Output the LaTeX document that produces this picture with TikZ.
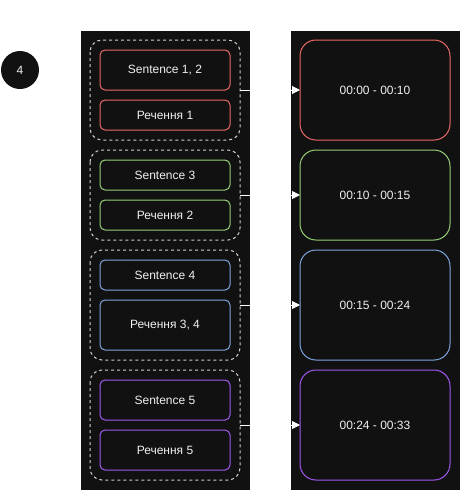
\documentclass[tikz,border=0pt]{standalone}
\usepackage{fontspec}
\setmainfont{Liberation Sans}
\usetikzlibrary{arrows.meta}
\definecolor{panel}{HTML}{111111}
\definecolor{cred}{HTML}{EA6B66}
\definecolor{cgreen}{HTML}{97D077}
\definecolor{cblue}{HTML}{7EA6E0}
\definecolor{cpurple}{HTML}{A259F0}
\definecolor{ctext}{HTML}{F0F0F0}
\definecolor{cdash}{HTML}{D0D0D0}
\begin{document}
\begin{tikzpicture}[x=1pt,y=-1pt,
  every node/.style={font=\fontsize{12}{14}\selectfont, text=ctext},
  panelbox/.style={fill=panel, draw=none},
  grp/.style={draw=cdash, line width=1pt, dash pattern=on 3pt off 3pt, rounded corners=12pt, fill=panel},
  item/.style={draw=#1, line width=1pt, rounded corners=5pt, fill=panel},
  slot/.style={draw=#1, line width=1pt, rounded corners=16pt, fill=panel},
  link/.style={draw=white, line width=1pt, -{Triangle[length=8pt,width=8pt]}}
]
\useasboundingbox (0,0) rectangle (461,491);
\fill[white] (0,0) rectangle (461,491);

% step badge
\node[circle, fill=panel, minimum size=38pt, inner sep=0pt] (badge) at (20,70) {4};

% dark panels
\fill[panelbox] (81,31) rectangle (250,490);
\fill[panelbox] (291,31) rectangle (460,490);

% groups of sentences
\draw[grp] (90,40) rectangle (240,140) node[coordinate] (g1se) {};
\coordinate (g1) at (240,90);
\draw[grp] (90,150) rectangle (240,240);
\coordinate (g2) at (240,195);
\draw[grp] (90,250) rectangle (240,360);
\coordinate (g3) at (240,305);
\draw[grp] (90,370) rectangle (240,480);
\coordinate (g4) at (240,425);

% sentence items
\draw[item=cred] (100,50) rectangle (230,90);
\node (s12) at (165,70) {Sentence 1, 2};
\draw[item=cred] (100,100) rectangle (230,130);
\node (r1) at (165,115) {Речення 1};

\draw[item=cgreen] (100,160) rectangle (230,190);
\node (s3) at (165,175) {Sentence 3};
\draw[item=cgreen] (100,200) rectangle (230,230);
\node (r2) at (165,215) {Речення 2};

\draw[item=cblue] (100,260) rectangle (230,290);
\node (s4) at (165,275) {Sentence 4};
\draw[item=cblue] (100,300) rectangle (230,350);
\node (r34) at (165,325) {Речення 3, 4};

\draw[item=cpurple] (100,380) rectangle (230,420);
\node (s5) at (165,400) {Sentence 5};
\draw[item=cpurple] (100,430) rectangle (230,470);
\node (r5) at (165,450) {Речення 5};

% time slots
\draw[slot=cred] (300,40) rectangle (450,140);
\node (t1) at (375,90) {00:00 - 00:10};
\coordinate (t1w) at (300,90);
\draw[slot=cgreen] (300,150) rectangle (450,240);
\node (t2) at (375,195) {00:10 - 00:15};
\coordinate (t2w) at (300,195);
\draw[slot=cblue] (300,250) rectangle (450,360);
\node (t3) at (375,305) {00:15 - 00:24};
\coordinate (t3w) at (300,305);
\draw[slot=cpurple] (300,370) rectangle (450,480);
\node (t4) at (375,425) {00:24 - 00:33};
\coordinate (t4w) at (300,425);

% connectors
\draw[link] (g1) -- (t1w);
\draw[link] (g2) -- (t2w);
\draw[link] (g3) -- (t3w);
\draw[link] (g4) -- (t4w);
\end{tikzpicture}
\end{document}
